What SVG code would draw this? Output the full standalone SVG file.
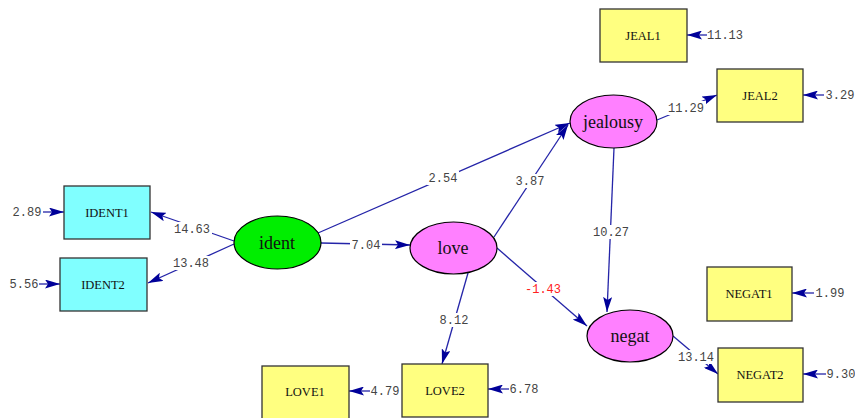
<svg xmlns="http://www.w3.org/2000/svg" width="855" height="418" viewBox="0 0 855 418">
<style>
.box{stroke:#333;stroke-width:1.3}
.obs{fill:#ffff80}
.cy{fill:#80ffff}
.lat{stroke:#000;stroke-width:1.2}
.blab{font-family:"Liberation Serif",serif;font-size:12.5px;fill:#111;text-anchor:middle}
.llab{font-family:"Liberation Serif",serif;font-size:18px;fill:#111;text-anchor:middle}
.conn line{stroke:#2424a8;stroke-width:1.3;marker-end:url(#ah)}
.num{font-family:"Liberation Mono",monospace;font-size:12px;fill:#444;text-anchor:middle}
.neg{fill:#ff2020}
</style>
<defs>
<marker id="ah" viewBox="0 0 15 9" refX="15" refY="4.5" markerWidth="15" markerHeight="9" markerUnits="userSpaceOnUse" orient="auto">
<path d="M0,0 L15,4.5 L0,9 L3,4.5 z" fill="#000099"/>
</marker>
<mask id="gaps" maskUnits="userSpaceOnUse" x="0" y="0" width="855" height="418">
<rect width="855" height="418" fill="#fff"/>
<g fill="#000">
<rect x="172" y="222" width="40" height="14"/>
<rect x="171" y="256" width="40" height="14"/>
<rect x="350" y="238" width="32" height="14"/>
<rect x="427" y="171" width="32" height="14"/>
<rect x="514" y="174" width="32" height="14"/>
<rect x="591" y="225" width="40" height="14"/>
<rect x="523" y="282" width="40" height="14"/>
<rect x="438" y="313" width="32" height="14"/>
<rect x="666" y="101" width="40" height="14"/>
<rect x="676" y="350" width="40" height="14"/>
</g>
</mask>
</defs>
<rect width="855" height="418" fill="#fff"/>

<g class="conn">
<g mask="url(#gaps)">
<line x1="234" y1="241" x2="151" y2="212"/>
<line x1="234" y1="244" x2="148" y2="283"/>
<line x1="321" y1="243" x2="410" y2="245"/>
<line x1="318" y1="233" x2="570" y2="123"/>
<line x1="494" y1="237" x2="568" y2="125"/>
<line x1="614" y1="148" x2="607" y2="312"/>
<line x1="497" y1="248" x2="587" y2="326"/>
<line x1="468" y1="273" x2="442" y2="364"/>
<line x1="657" y1="120" x2="717" y2="95"/>
<line x1="673" y1="336" x2="718" y2="374"/>
</g>
<line x1="43" y1="212" x2="64" y2="212"/>
<line x1="39" y1="284" x2="60" y2="284"/>
<line x1="707" y1="35" x2="687" y2="35"/>
<line x1="824" y1="95" x2="803" y2="95"/>
<line x1="814" y1="293" x2="792" y2="293"/>
<line x1="826" y1="374" x2="803" y2="374"/>
<line x1="509" y1="389" x2="488" y2="389"/>
<line x1="370" y1="391" x2="349" y2="391"/>
<text class="num" x="192" y="233">14.63</text>
<text class="num" x="191" y="267">13.48</text>
<text class="num" x="366" y="249">7.04</text>
<text class="num" x="443" y="182">2.54</text>
<text class="num" x="530" y="185">3.87</text>
<text class="num" x="611" y="236">10.27</text>
<text class="num neg" x="543" y="293">-1.43</text>
<text class="num" x="454" y="324">8.12</text>
<text class="num" x="686" y="112">11.29</text>
<text class="num" x="696" y="361">13.14</text>
<text class="num" x="27" y="216">2.89</text>
<text class="num" x="24" y="288">5.56</text>
<text class="num" x="725" y="39">11.13</text>
<text class="num" x="840" y="99">3.29</text>
<text class="num" x="830" y="297">1.99</text>
<text class="num" x="841" y="378">9.30</text>
<text class="num" x="524" y="393">6.78</text>
<text class="num" x="385" y="395">4.79</text>
</g>

<g id="IDENT1"><rect class="box cy" x="64" y="186" width="86" height="53"/><text class="blab" x="107" y="217">IDENT1</text></g>
<g id="IDENT2"><rect class="box cy" x="60" y="258" width="87" height="53"/><text class="blab" x="103" y="289">IDENT2</text></g>
<g id="JEAL1"><rect class="box obs" x="600" y="9" width="87" height="53"/><text class="blab" x="643" y="40">JEAL1</text></g>
<g id="JEAL2"><rect class="box obs" x="717" y="69" width="86" height="53"/><text class="blab" x="760" y="100">JEAL2</text></g>
<g id="NEGAT1"><rect class="box obs" x="707" y="267" width="85" height="54"/><text class="blab" x="749" y="298">NEGAT1</text></g>
<g id="NEGAT2"><rect class="box obs" x="718" y="348" width="85" height="54"/><text class="blab" x="760" y="379">NEGAT2</text></g>
<g id="LOVE1"><rect class="box obs" x="262" y="366" width="87" height="54"/><text class="blab" x="305" y="396">LOVE1</text></g>
<g id="LOVE2"><rect class="box obs" x="402" y="364" width="86" height="53"/><text class="blab" x="445" y="395">LOVE2</text></g>

<g id="ident"><ellipse class="lat" cx="277.5" cy="242.5" rx="43.5" ry="26.5" fill="#00ee00"/><text class="llab" x="277" y="249">ident</text></g>
<g id="love"><ellipse class="lat" cx="453.5" cy="248" rx="43.5" ry="26" fill="#ff80ff"/><text class="llab" x="453" y="254">love</text></g>
<g id="jealousy"><ellipse class="lat" cx="613.5" cy="121.5" rx="43.5" ry="26.5" fill="#ff80ff"/><text class="llab" x="613" y="128">jealousy</text></g>
<g id="negat"><ellipse class="lat" cx="630" cy="336" rx="43" ry="26" fill="#ff80ff"/><text class="llab" x="630" y="342">negat</text></g>
</svg>
